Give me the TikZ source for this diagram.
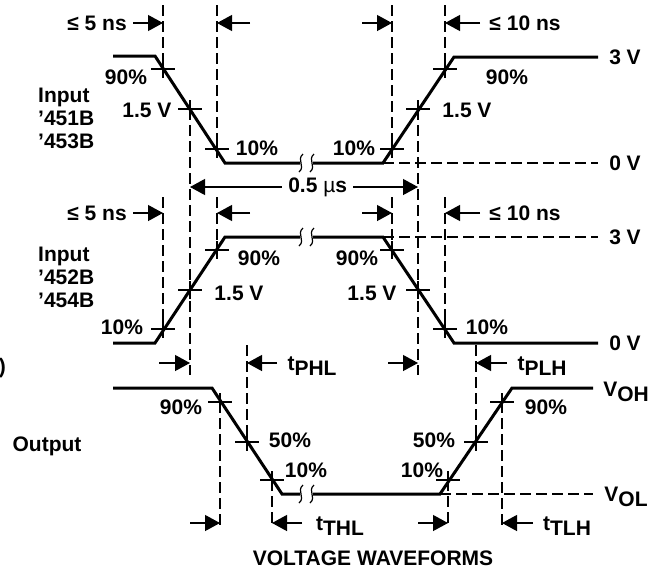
\documentclass[tikz,border=0pt]{standalone}
\usepackage{fontspec}
\setmainfont{Liberation Sans}
\usetikzlibrary{arrows.meta}
\newcommand\sub[1]{\raisebox{-0.4ex}{#1}}
\tikzset{
  lbl/.style={font=\bfseries\fontsize{21}{23}\selectfont, inner sep=0pt},
  wave/.style={line width=3pt, line join=miter},
  guide/.style={line width=1.2pt, dash pattern=on 11pt off 5pt},
  dim/.style={line width=1.2pt, ->},
  cross/.pic={\draw[line width=1.2pt] (-12,0) -- (12,0) (0,-9) -- (0,9);},
  brk/.pic={\draw[line width=1.2pt] (2,-9) .. controls (-5,-3) and (5,3) .. (-2,9);}
}
\begin{document}
\begin{tikzpicture}[x=1pt,y=-1pt,>={Triangle[length=15pt,width=16pt]}]
\useasboundingbox (0,0) rectangle (660,571);
% input '451B/'453B
\draw [wave] (113,56) -- (155,56) -- (225,163) -- (300,163) (313,163) -- (383,163) -- (454,57) -- (598,57);
\pic at (301,163) {brk}; \pic at (312,163) {brk};
\draw [guide] (383,163) -- (598,163);
\foreach \x/\y in {163/69, 190/109, 217/149, 392/149, 418/109, 445/69} \pic at (\x,\y) {cross};
\draw [guide] (163,5) -- (163,69) (217,5) -- (217,149) (392,5) -- (392,149) (445,5) -- (445,69);
\draw [guide] (190,109) -- (190,375) (418,109) -- (418,375);
\draw [dim] (133,23) -- (163,23);
\draw [dim] (250,23) -- (217,23);
\draw [dim] (362,23) -- (392,23);
\draw [dim] (480,23) -- (445,23);
\draw [<->, line width=1.2pt] (190,187) -- (418,187) node [lbl, pos=0.56, fill=white, inner xsep=6pt] (width) {0.5 {\mdseries µ}s};
\node [lbl] (r5a) at (97,23) {≤ 5 ns};
\node [lbl] (r10a) at (525,23) {≤ 10 ns};
\node [lbl] (a90) at (126,77) {90\%};
\node [lbl] (a15) at (147,110) {1.5 V};
\node [lbl] (a10) at (257,148) {10\%};
\node [lbl] (b10) at (354,148) {10\%};
\node [lbl] (b15) at (467,110) {1.5 V};
\node [lbl] (b90) at (507,77) {90\%};
\node [lbl] (hiA) at (625,57) {3 V};
\node [lbl] (loA) at (625,163) {0 V};
\node [lbl, align=left, anchor=west] (inA) at (38,118) {Input\\’451B\\’453B};
% input '452B/'454B
\draw [wave] (113,343) -- (155,343) -- (225,237) -- (300,237) (313,237) -- (383,237) -- (454,343) -- (598,343);
\pic at (301,237) {brk}; \pic at (312,237) {brk};
\draw [guide] (383,237) -- (598,237);
\foreach \x/\y in {163/329, 190/290, 217/250, 392/250, 418/290, 445/329} \pic at (\x,\y) {cross};
\draw [guide] (163,197) -- (163,329) (217,197) -- (217,250) (392,197) -- (392,250) (445,197) -- (445,329);
\draw [dim] (133,213) -- (163,213);
\draw [dim] (250,213) -- (217,213);
\draw [dim] (362,213) -- (392,213);
\draw [dim] (480,213) -- (445,213);
\node [lbl] (r5b) at (97,213) {≤ 5 ns};
\node [lbl] (r10b) at (525,213) {≤ 10 ns};
\node [lbl] (c10) at (122,327) {10\%};
\node [lbl] (c15) at (239,293) {1.5 V};
\node [lbl] (c90) at (259,258) {90\%};
\node [lbl] (d90) at (357,258) {90\%};
\node [lbl] (d15) at (372,293) {1.5 V};
\node [lbl] (d10) at (487,327) {10\%};
\node [lbl] (hiB) at (625,237) {3 V};
\node [lbl] (loB) at (625,343) {0 V};
\node [lbl, align=left, anchor=west] (inB) at (38,277) {Input\\’452B\\’454B};
\node [lbl, anchor=east] (paren) at (6,368) {)};
% propagation delays
\draw [guide] (247,345) -- (247,442) (476,345) -- (476,442);
\draw [dim] (159,363) -- (190,363);
\draw [dim] (277,363) -- (247,363);
\draw [dim] (388,363) -- (418,363);
\draw [dim] (507,363) -- (476,363);
\node [lbl] (tphl) at (312,366) {t\sub{PHL}};
\node [lbl] (tplh) at (542,366) {t\sub{PLH}};
% output
\draw [wave] (113,388) -- (212,388) -- (282,494) -- (300,494) (313,494) -- (440,494) -- (512,388) -- (593,388);
\pic at (301,494) {brk}; \pic at (312,494) {brk};
\draw [guide] (440,494) -- (593,494);
\foreach \x/\y in {220/402, 247/442, 272/480, 448/480, 476/442, 502/402} \pic at (\x,\y) {cross};
\draw [guide] (220,402) -- (220,526) (272,480) -- (272,526) (448,480) -- (448,526) (502,402) -- (502,526);
\draw [dim] (190,523) -- (220,523);
\draw [dim] (302,523) -- (272,523);
\draw [dim] (418,523) -- (448,523);
\draw [dim] (533,523) -- (502,523);
\node [lbl] (tthl) at (340,526) {t\sub{THL}};
\node [lbl] (ttlh) at (567,526) {t\sub{TLH}};
\node [lbl] (e90) at (181,407) {90\%};
\node [lbl] (e50) at (290,440) {50\%};
\node [lbl] (e10) at (306,470) {10\%};
\node [lbl] (f50) at (434,440) {50\%};
\node [lbl] (f10) at (422,470) {10\%};
\node [lbl] (f90) at (546,407) {90\%};
\node [lbl] (voh) at (626,392) {V\sub{OH}};
\node [lbl] (vol) at (626,497) {V\sub{OL}};
\node [lbl] (out) at (47,446) {Output};
\node [lbl] (title) at (373,558) {VOLTAGE WAVEFORMS};
\end{tikzpicture}
\end{document}
